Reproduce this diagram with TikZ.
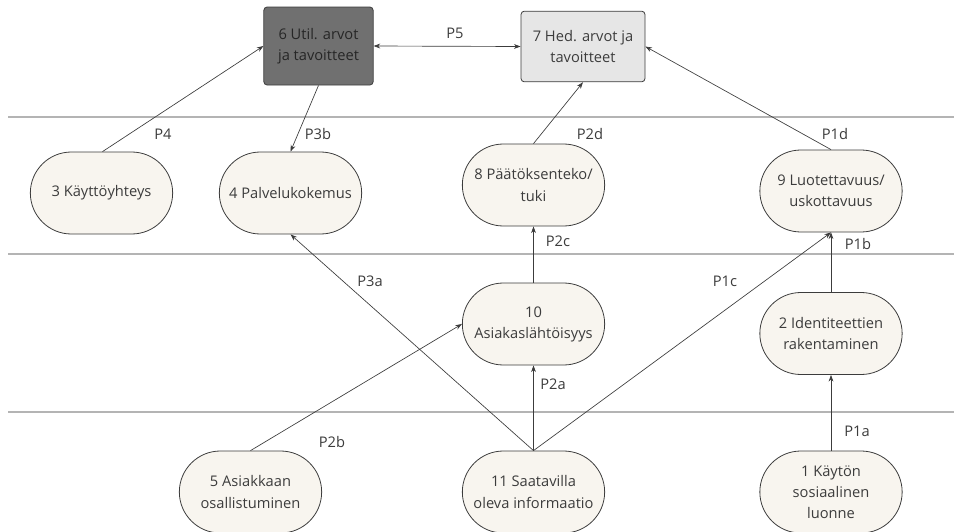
\documentclass[tikz,border=0pt]{standalone}
\usepackage{fontspec}
\setmainfont{Open Sans}
\usepackage{tikz}
\usetikzlibrary{shapes.misc,arrows.meta}

\definecolor{pill}{HTML}{F8F5EF}
\definecolor{ink}{HTML}{3C3C3C}
\definecolor{darkbox}{HTML}{707070}
\definecolor{lightbox}{HTML}{E6E6E6}
\definecolor{rule}{HTML}{B4B4B4}

\begin{document}
\begin{tikzpicture}[x=0.75pt,y=-0.75pt]
    \tikzstyle{every node}=[font=\fontsize{11}{15.8}\selectfont,text=ink]
    \tikzstyle{pill}=[rounded rectangle,draw=ink,fill=pill,line width=0.6pt,minimum width=108.75pt,minimum height=61.5pt,align=center,inner sep=1pt]
    \tikzstyle{goal}=[rectangle,rounded corners=2.5pt,draw=ink,line width=0.6pt,align=center]
    \tikzstyle{link}=[draw=ink,line width=0.5pt,-{Stealth[length=5pt,width=3.6pt]}]
    \tikzstyle{plabel}=[inner sep=0pt]
    \useasboundingbox (0,0) rectangle (954,532);
      % band rules
      \draw[rule,line width=0.8pt] (8,117) -- (954,117);
      \draw[rule,line width=0.8pt] (8,254) -- (954,254);
      \draw[rule,line width=0.8pt] (8,412) -- (954,412);
      % goals
      \node[goal,fill=darkbox,minimum width=82pt,minimum height=58.5pt,text=black!85] (n6) at (318.5,46) {6 Util. arvot\\ja tavoitteet};
      \node[goal,fill=lightbox,minimum width=93pt,minimum height=53pt] (n7) at (583,46.5) {7 Hed. arvot ja\\tavoitteet};
      % middle band
      \node[pill] (n3) at (101.5,193) {3 Käyttöyhteys};
      \node[pill] (n4) at (290.5,193) {4 Palvelukokemus};
      \node[pill] (n8) at (533.5,185) {8 Päätöksenteko/\\tuki};
      \node[pill] (n9) at (831,191) {9 Luotettavuus/\\uskottavuus};
      \node[pill] (n10) at (533.5,324) {10\\Asiakaslähtöisyys};
      \node[pill] (n2) at (831,333.5) {2 Identiteettien\\rakentaminen};
      % bottom band
      \node[pill] (n5) at (250.5,492) {5 Asiakkaan\\osallistuminen};
      \node[pill] (n11) at (533.5,492) {11 Saatavilla\\oleva informaatio};
      \node[pill] (n1) at (831,492) {1 Käytön\\sosiaalinen\\luonne};
      % links
      \draw[link,{Stealth[length=5pt,width=3.6pt]}-{Stealth[length=5pt,width=3.6pt]}] (n6.east) -- (n7.west);
      \draw[link] (n3.north) ++(1,0) -- (n6.west);
      \draw[link] (n6.south) -- (n4.north);
      \draw[link] (n8.north) -- (n7.south);
      \draw[link] (n9.north) -- (n7.east);
      \draw[link] (n10.north) -- (n8.south);
      \draw[link] (n2.north) -- (n9.south);
      \draw[link] (n11.north) -- (n9.south);
      \draw[link] (n11.north) -- (n4.south);
      \draw[link] (n11.north) -- (n10.south);
      \draw[link] (n5.north) -- (n10.west);
      \draw[link] (n1.north) -- (n2.south);
      % path labels
      \node[plabel] (p5) at (455,33) {P5};
      \node[plabel] (p4) at (163,134) {P4};
      \node[plabel] (p3b) at (318,134) {P3b};
      \node[plabel] (p2d) at (590,134) {P2d};
      \node[plabel] (p1d) at (835,134) {P1d};
      \node[plabel] (p2c) at (558,241) {P2c};
      \node[plabel] (p1b) at (858,244) {P1b};
      \node[plabel] (p3a) at (370,281) {P3a};
      \node[plabel] (p1c) at (725,281) {P1c};
      \node[plabel] (p2a) at (553,384) {P2a};
      \node[plabel] (p2b) at (332,442) {P2b};
      \node[plabel] (p1a) at (857,431) {P1a};
  \end{tikzpicture}
\end{document}
